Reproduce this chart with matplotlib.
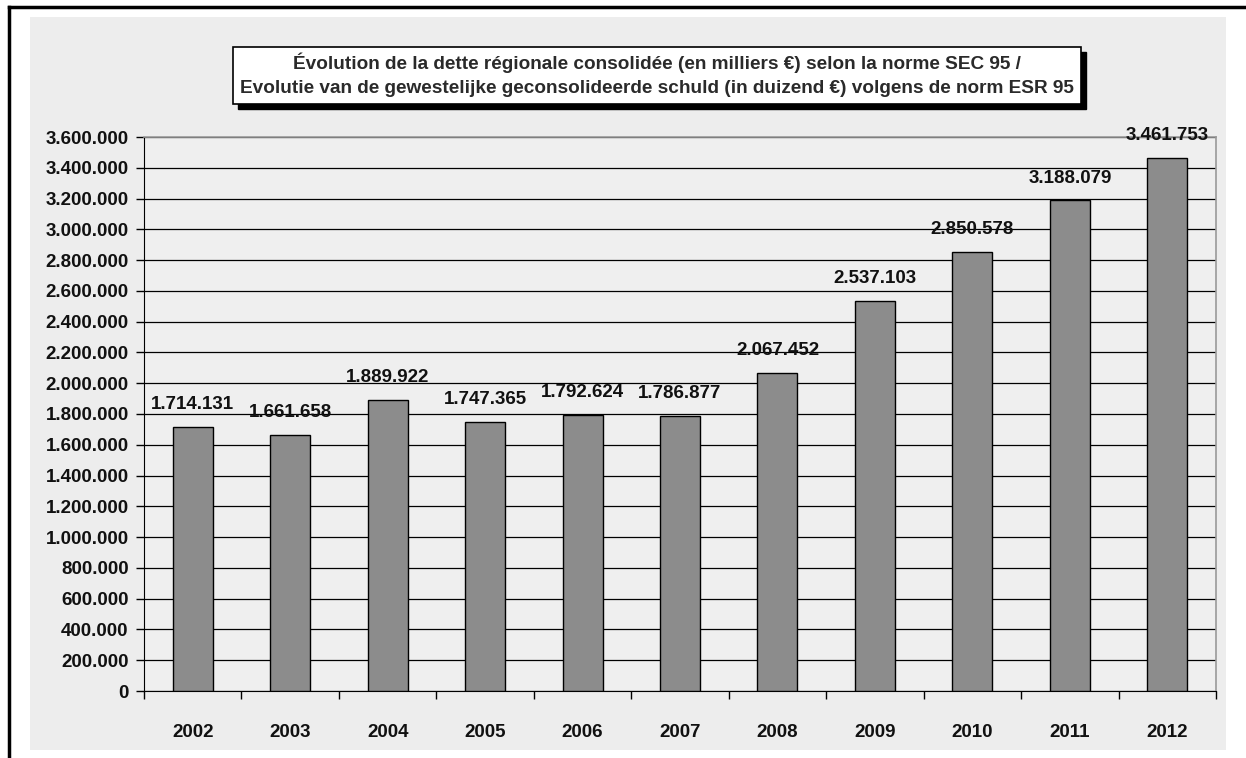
import matplotlib.pyplot as plt
from matplotlib.patches import Rectangle
from matplotlib.ticker import FuncFormatter, MultipleLocator

years = ["2002", "2003", "2004", "2005", "2006", "2007",
         "2008", "2009", "2010", "2011", "2012"]
debt = [1714131, 1661658, 1889922, 1747365, 1792624, 1786877,
        2067452, 2537103, 2850578, 3188079, 3461753]

title_fr = "Évolution de la dette régionale consolidée (en milliers €) selon la norme SEC 95 /"
title_nl = "Evolutie van de gewestelijke geconsolideerde schuld (in duizend €) volgens de norm ESR 95"

plt.rcParams["font.family"] = ["Liberation Sans", "DejaVu Sans"]
plt.rcParams["font.weight"] = "bold"

W, H = 1246, 758
fig = plt.figure(figsize=(W / 100, H / 100), dpi=100, facecolor="white")


def px(x0, y0, x1, y1):
    # pixel box (top-left origin) -> figure fraction rect
    return [x0 / W, 1 - y1 / H, (x1 - x0) / W, (y1 - y0) / H]


# light backdrop
bx = px(30, 17, 1226, 750)
fig.patches.append(Rectangle((bx[0], bx[1]), bx[2], bx[3], transform=fig.transFigure,
                             facecolor="#ededed", edgecolor="none", zorder=-1))
# outer frame (top and left only)
fig.add_artist(plt.Line2D([9 / W, 1], [1 - 7 / H, 1 - 7 / H], color="black", lw=2.5))
fig.add_artist(plt.Line2D([9 / W, 9 / W], [0, 1 - 7 / H], color="black", lw=2.5))

ax = fig.add_axes(px(144, 137, 1216, 691))
ax.set_zorder(2)
ax.set_facecolor("#efefef")

x = list(range(len(years)))
ax.bar(x, debt, width=0.41, color="#8c8c8c", edgecolor="black", linewidth=1.0, zorder=3)

for xi, v in zip(x, debt):
    lab = f"{v:,}".replace(",", ".")
    ax.annotate(lab, (xi, v), xytext=(0, 10), textcoords="offset points",
                ha="center", va="bottom", fontsize=13.5, fontweight="bold", color="#111111")

ax.set_xlim(-0.5, len(years) - 0.5)
ax.set_ylim(0, 3600000)
ax.yaxis.set_major_locator(MultipleLocator(200000))
ax.yaxis.set_major_formatter(FuncFormatter(lambda v, p: f"{int(v):,}".replace(",", ".")))
ax.grid(axis="y", color="black", linewidth=0.9, zorder=1)
ax.set_axisbelow(True)

ax.set_xticks(x)
ax.set_xticklabels(years)
ax.set_xticks([i - 0.5 for i in range(len(years) + 1)], minor=True)
ax.tick_params(axis="x", which="major", length=0, pad=24, labelsize=13.5, labelcolor="#111111")
ax.tick_params(axis="x", which="minor", length=6, direction="out", width=1, color="black")
ax.tick_params(axis="y", length=6, width=1, direction="out", pad=5, labelsize=13.5,
               labelcolor="#111111")
for t in ax.get_xticklabels() + ax.get_yticklabels():
    t.set_fontweight("bold")

for s in ["top", "right"]:
    ax.spines[s].set_color("#999999")
    ax.spines[s].set_linewidth(1.2)
ax.spines["left"].set_color("black")
ax.spines["bottom"].set_color("black")

# title box with shadow
tb = px(233, 47, 1081, 104)
sh = 5 / W, 5 / H
fig.patches.append(Rectangle((tb[0] + sh[0], tb[1] - sh[1]), tb[2], tb[3], transform=fig.transFigure,
                             facecolor="black", edgecolor="black", zorder=5))
fig.patches.append(Rectangle((tb[0], tb[1]), tb[2], tb[3], transform=fig.transFigure,
                             facecolor="white", edgecolor="black", lw=1.2, zorder=6))
fig.text(tb[0] + tb[2] / 2, tb[1] + tb[3] * 0.73, title_fr, ha="center", va="center",
         fontsize=13.7, fontweight="bold", color="#2a2a2a", zorder=7)
fig.text(tb[0] + tb[2] / 2, tb[1] + tb[3] * 0.28, title_nl, ha="center", va="center",
         fontsize=13.7, fontweight="bold", color="#2a2a2a", zorder=7)

fig.savefig("out.png", dpi=100, facecolor="white")
